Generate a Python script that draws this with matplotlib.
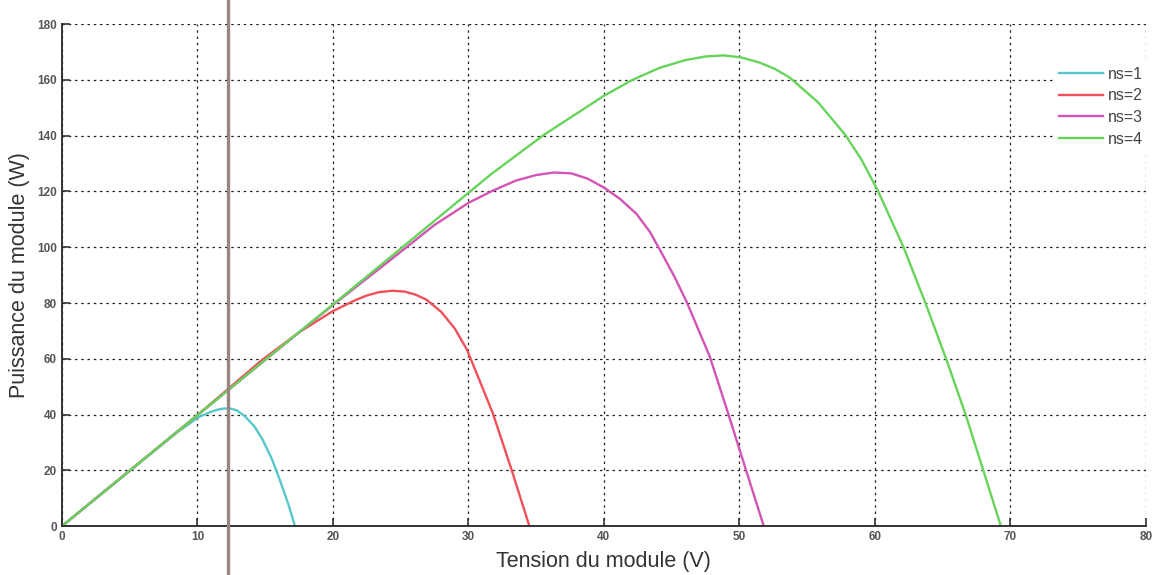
from matplotlib import pyplot as plt
from matplotlib.lines import Line2D

plt.rcParams['font.family'] = ['Liberation Sans', 'DejaVu Sans']

# values (V, W)
v_ns1 = [0, 5, 8.6, 10.1, 11, 11.6, 12.05, 12.5, 12.9, 13.5, 14.2, 14.8, 15.5, 16.1, 16.7, 17.2]
p_ns1 = [0, 19.8, 34, 39.1, 41, 41.9, 42.2, 42.1, 41.5, 39.4, 35.8, 31.1, 24, 16.3, 8, 0]

v_ns2 = [0, 10, 14.7, 17.5, 20, 21.6, 22.5, 23.4, 24.4, 25.3, 26.1, 26.9, 28, 29, 29.9, 30.8, 31.8, 33.2, 34.5]
p_ns2 = [0, 39.8, 59.3, 69.5, 77.1, 80.9, 82.7, 83.9, 84.4, 84.1, 83.0, 81.2, 76.8, 70.8, 63.2, 52.5, 40.5, 20, 0]

v_ns3 = [0, 10, 20, 24, 27.5, 30, 31.8, 33.5, 35, 36.3, 37.6, 38.8, 40, 41.2, 42.4, 43.4, 44.2, 45.2, 46.1, 47.8,
         49.1, 50.45, 51.8]
p_ns3 = [0, 39.8, 79.3, 94.5, 108, 115.9, 120.3, 123.9, 125.9, 126.8, 126.5, 124.6, 121.4, 117.3, 112, 105.5, 98.5,
         89.5, 80.5, 61, 41.5, 20.7, 0]

v_ns4 = [0, 10, 20, 25, 30, 31.7, 35.6, 40, 42.1, 44.1, 46, 47.5, 48.8, 50.1, 51.5, 52.6, 53.7, 55.8, 57.8, 59,
         60.2, 62.1, 63.7, 65.25, 66.7, 68, 69.3]
p_ns4 = [0, 39.8, 79.5, 99.5, 119.5, 126.3, 140.4, 154.3, 160, 164.3, 167.1, 168.4, 168.8, 168.1, 166.2, 164, 160.9,
         152, 140.4, 131.5, 120.5, 100.2, 80.4, 60.1, 40, 20, 0]

labels = ['ns=1', 'ns=2', 'ns=3', 'ns=4']
colors = ['#55c8cc', '#f0505a', '#d254b4', '#66d45a']
xticks = [0, 10, 20, 30, 40, 50, 60, 70, 80]
yticks = [0, 20, 40, 60, 80, 100, 120, 140, 160, 180]

fig = plt.figure(figsize=(11.58, 5.75), dpi=100)
ax = fig.add_axes([0.0535, 0.085, 0.936, 0.873])

series = [(v_ns1, p_ns1), (v_ns2, p_ns2), (v_ns3, p_ns3), (v_ns4, p_ns4)]
for (v, p), lab, col in zip(series, labels, colors):
    ax.plot(v, p, color=col, linewidth=1.7, label=lab)

ax.set_xlim(0, 80)
ax.set_ylim(0, 180)
ax.set_xticks(xticks)
ax.set_yticks(yticks)
ax.grid(True, linestyle=(0, (2, 3)), color='#222222', linewidth=0.9)
for s in ['top', 'right']:
    ax.spines[s].set_visible(False)
for s in ['left', 'bottom']:
    ax.spines[s].set_color('#333333')
    ax.spines[s].set_linewidth(1.4)
ax.tick_params(direction='in', length=6, width=1.2, colors='#333333', labelsize=8.5,
               labelcolor='#555555')
for t in ax.get_xticklabels() + ax.get_yticklabels():
    t.set_fontweight('bold')

ax.set_xlabel('Tension du module (V)', fontsize=15.5, color='#333333', labelpad=6)
ax.set_ylabel('Puissance du module (W)', fontsize=15.5, color='#333333', labelpad=5)

leg = ax.legend(loc='upper right', bbox_to_anchor=(1.002, 0.925), borderaxespad=0, frameon=True,
                fontsize=11.5, handlelength=2.8, handletextpad=0.3, labelspacing=0.42,
                labelcolor='#444444', fancybox=False, borderpad=0.3)
leg.get_frame().set_facecolor('white')
leg.get_frame().set_edgecolor('none')
leg.get_frame().set_alpha(1)

# vertical stripe from the scan
fig.add_artist(Line2D([0.197, 0.197], [0, 1], transform=fig.transFigure,
                      color='#9b8580', linewidth=2.4))

fig.savefig('out.png', dpi=100)
